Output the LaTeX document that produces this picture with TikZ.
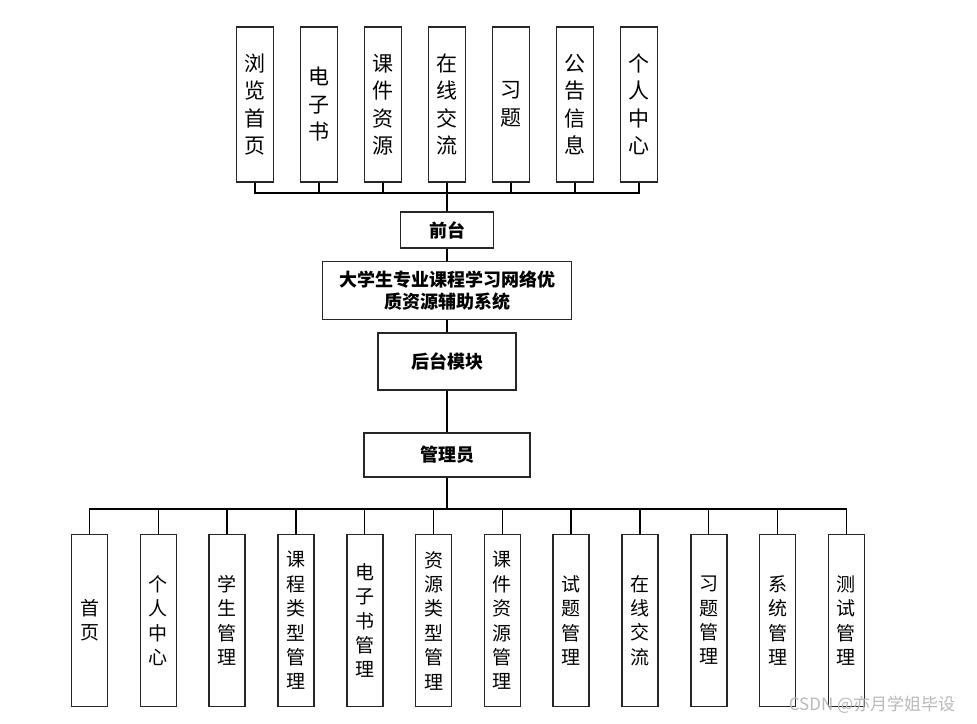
\documentclass[tikz,border=0pt]{standalone}
\usepackage{fontspec}
\newfontfamily\cjk{Noto Sans CJK SC}
\begin{document}
\begin{tikzpicture}[
  x=1pt, y=-1pt,
  line width=1.5pt,
  every node/.style={draw=black!85, line width=1.6pt, inner sep=0pt, align=center},
  topbox/.style={minimum width=37pt, minimum height=155pt, font=\cjk\fontsize{21}{27.5}\selectfont},
  subbox/.style={minimum width=36pt, minimum height=172pt, font=\cjk\fontsize{19}{24.4}\selectfont},
  midbox/.style={font=\cjk\bfseries\fontsize{18}{21.7}\selectfont}
]
  \useasboundingbox (0,0) rectangle (977,723);

  % front end modules
  \foreach \txt [count=\i] in {{浏\\览\\首\\页},{电\\子\\书},{课\\件\\资\\源},{在\\线\\交\\流},{习\\题},{公\\告\\信\\息},{个\\人\\中\\心}}
    \node[topbox] (f\i) at ({191+64*\i},104.5) {\txt};

  \node[midbox, minimum width=93pt, minimum height=36pt] (qt) at (447,230) {前台};
  \node[midbox, minimum width=249pt, minimum height=58pt] (xt) at (447,290.5) {大学生专业课程学习网络优\\质资源辅助系统};
  \node[midbox, minimum width=138pt, minimum height=57pt] (ht) at (447,361.4) {后台模块};
  \node[midbox, minimum width=166pt, minimum height=44pt] (gly) at (447,455) {管理员};

  % admin modules
  \foreach \txt [count=\i] in {{首\\页},{个\\人\\中\\心},{学\\生\\管\\理},{课\\程\\类\\型\\管\\理},{电\\子\\书\\管\\理},{资\\源\\类\\型\\管\\理},{课\\件\\资\\源\\管\\理},{试\\题\\管\\理},{在\\线\\交\\流},{习\\题\\管\\理},{系\\统\\管\\理},{测\\试\\管\\理}}
    \node[subbox] (b\i) at ({20.7+68.8*\i},620.5) {\txt};

  \coordinate (tb) at (447,193);
  \foreach \i in {1,...,7}
    \draw (f\i.south) |- (tb);
  \draw (tb) -- (qt);
  \draw (qt) -- (xt);
  \draw (xt) -- (ht);
  \draw (ht) -- (gly);

  \coordinate (bb) at (447,509);
  \draw (gly) -- (bb);
  \foreach \i in {1,...,12}
    \draw (b\i.north) |- (bb);

  \node[draw=none, text=gray!55, font=\cjk\fontsize{17}{17}\selectfont, anchor=west] (wm) at (788,705) {CSDN @亦月学姐毕设};
\end{tikzpicture}
\end{document}
